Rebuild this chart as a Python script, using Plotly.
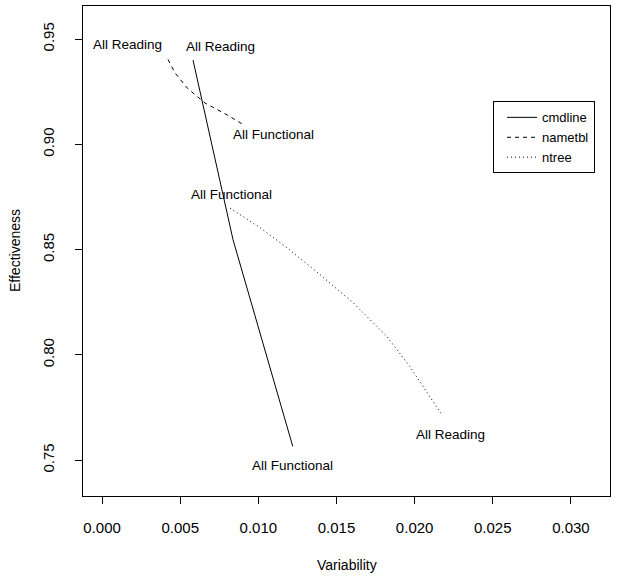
import plotly.graph_objects as go

# Data
cmdline_x = [0.00582, 0.00838, 0.01220]
cmdline_y = [0.9400, 0.8547, 0.7566]

nametbl_x = [0.00422, 0.00467, 0.00544, 0.00659, 0.00800, 0.00896]
nametbl_y = [0.9403, 0.9339, 0.9268, 0.9196, 0.9140, 0.9097]

ntree_x = [0.00819, 0.01011, 0.01183, 0.01395, 0.01606, 0.01823, 0.01970, 0.02098, 0.02173]
ntree_y = [0.8697, 0.8604, 0.8509, 0.8381, 0.8248, 0.8087, 0.7944, 0.7802, 0.7717]

x_ticks = [0.000, 0.005, 0.010, 0.015, 0.020, 0.025, 0.030]
y_ticks = [0.75, 0.80, 0.85, 0.90, 0.95]

FONT = "Liberation Sans, Arial, Helvetica, sans-serif"

fig = go.Figure()
fig.add_trace(go.Scatter(x=cmdline_x, y=cmdline_y, mode="lines", name="cmdline",
                         line=dict(color="black", width=1)))
fig.add_trace(go.Scatter(x=nametbl_x, y=nametbl_y, mode="lines", name="nametbl",
                         line=dict(color="black", width=1, dash="4px,4px")))
fig.add_trace(go.Scatter(x=ntree_x, y=ntree_y, mode="lines", name="ntree",
                         line=dict(color="black", width=1, dash="1px,3px")))

# End-point labels (label text, anchored at series point, pixel offset)
labels = [
    ("All Reading", nametbl_x[0], nametbl_y[0], -41, 15),
    ("All Reading", cmdline_x[0], cmdline_y[0], 27, 14),
    ("All Functional", nametbl_x[-1], nametbl_y[-1], 31, -11),
    ("All Functional", ntree_x[0], ntree_y[0], 1, 14),
    ("All Reading", ntree_x[-1], ntree_y[-1], 9, -20),
    ("All Functional", cmdline_x[-1], cmdline_y[-1], 0, -19),
]
for txt, x, y, dx, dy in labels:
    fig.add_annotation(x=x, y=y, text=txt, showarrow=False, xshift=dx, yshift=dy,
                       font=dict(family=FONT, size=13.5, color="black"),
                       xanchor="center", yanchor="middle")

# Axis titles
fig.add_annotation(xref="paper", yref="paper", x=0.5, y=0, yshift=-69, text="Variability",
                   showarrow=False, font=dict(family=FONT, size=14, color="black"),
                   xanchor="center", yanchor="middle")
fig.add_annotation(xref="paper", yref="paper", x=0, y=0.5, xshift=-68, text="Effectiveness",
                   showarrow=False, textangle=-90, font=dict(family=FONT, size=14, color="black"),
                   xanchor="center", yanchor="middle")

axis_common = dict(showline=True, mirror=True, linecolor="black", linewidth=1,
                   ticks="outside", ticklen=7, tickcolor="black", tickwidth=1,
                   showgrid=False, zeroline=False,
                   tickfont=dict(family=FONT, size=15, color="black"))

fig.update_xaxes(range=[-0.00122, 0.0325], tickvals=x_ticks,
                 ticktext=[f"{v:.3f}" for v in x_ticks], ticklabelstandoff=11, **axis_common)
fig.update_yaxes(range=[0.733, 0.9657], tickvals=y_ticks,
                 ticktext=[f"{v:.2f}" for v in y_ticks], tickangle=-90,
                 ticklabelstandoff=15, **axis_common)

fig.update_layout(
    width=627, height=577,
    margin=dict(l=83, r=17, t=6, b=81),
    plot_bgcolor="white", paper_bgcolor="white",
    font=dict(family=FONT, color="black"),
    legend=dict(x=(493 - 83) / 527, y=(496.5 - 101.5) / 490.5, xanchor="left", yanchor="top",
                bordercolor="black", borderwidth=1, bgcolor="white",
                font=dict(family=FONT, size=13, color="black"),
                tracegroupgap=0, itemwidth=30, indentation=8),
)

fig.write_html("out.html", config={"displayModeBar": False},
               post_script="document.body.style.margin='0';document.body.style.padding='0';")
